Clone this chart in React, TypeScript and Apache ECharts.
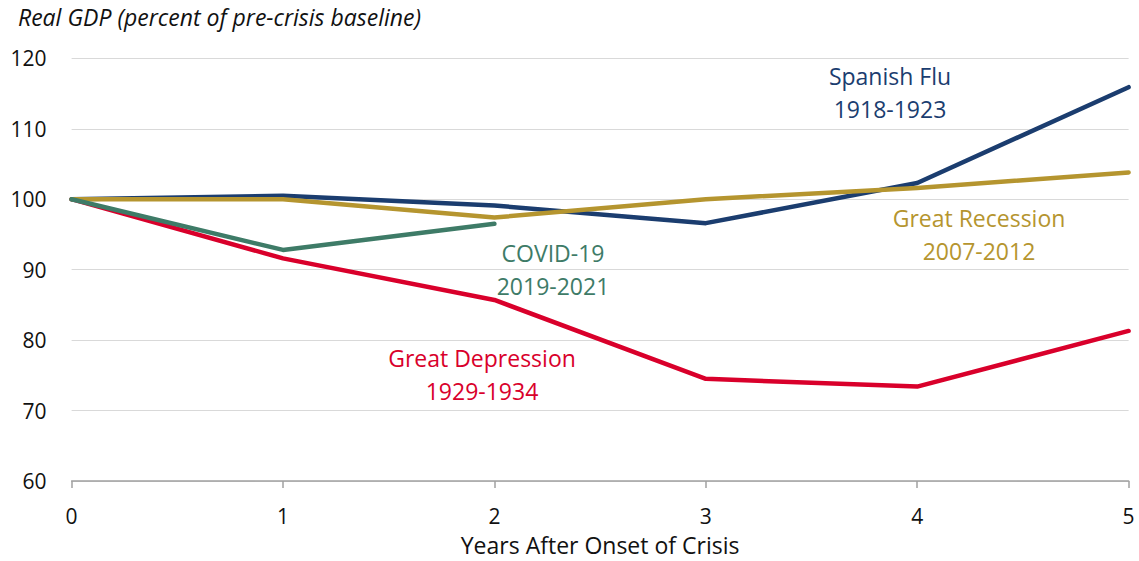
import React, { useEffect, useRef } from "react";
import * as echarts from "echarts";

const years = ["0", "1", "2", "3", "4", "5"];
const yTicks = [60, 70, 80, 90, 100, 110, 120];
const spanishFlu = [100, 100.5, 99.1, 96.6, 102.3, 115.9];
const greatRecession = [100, 100, 97.4, 100, 101.6, 103.8];
const covid19 = [100, 92.8, 96.5];
const greatDepression = [100, 91.6, 85.7, 74.5, 73.4, 81.3];

const seriesNames = ["Great Depression", "Spanish Flu", "Great Recession", "COVID-19"];
const seriesPeriods = ["1929-1934", "1918-1923", "2007-2012", "2019-2021"];

const FONT = "'Open Sans', 'Noto Sans', sans-serif";
const C_NAVY = "#1b3d6f";
const C_GOLD = "#b5952f";
const C_GREEN = "#3e7b67";
const C_RED = "#d9002b";

export default function App() {
  const ref = useRef<HTMLDivElement>(null);
  useEffect(() => {
    document.body.style.margin = "0";
    document.body.style.overflow = "hidden";
    if (!ref.current) return;
    const chart = echarts.init(ref.current, undefined, { renderer: "svg" });
    const lineStyle = (color: string) => ({ color, width: 4.5, cap: "round" as const, join: "round" as const });
    const mk = (name: string, data: number[], color: string) => ({
      name,
      type: "line" as const,
      data,
      showSymbol: false,
      symbol: "none",
      lineStyle: lineStyle(color),
      itemStyle: { color },
      z: 3,
    });
    const label = (lines: string[], color: string, x: number, y: number) => ({
      type: "text" as const,
      x,
      y,
      style: {
        text: lines.join("\n"),
        fill: color,
        font: `23px ${FONT}`,
        lineHeight: 33,
        textAlign: "center",
        textVerticalAlign: "top",
      },
      z: 10,
    });
    chart.setOption({
      animation: false,
      backgroundColor: "#ffffff",
      textStyle: { fontFamily: FONT },
      grid: { left: 71.6, right: 10.4, top: 58.3, bottom: 79.3, containLabel: false },
      xAxis: {
        type: "category",
        data: years,
        boundaryGap: false,
        name: "Years After Onset of Crisis",
        nameLocation: "middle",
        nameGap: 52,
        nameTextStyle: { fontSize: 23, color: "#111", fontFamily: FONT },
        axisLine: { show: true, lineStyle: { color: "#a0a0a0", width: 1.5 } },
        axisTick: { show: true, length: 7, lineStyle: { color: "#a0a0a0", width: 1.5 } },
        axisLabel: { fontSize: 21, color: "#111", margin: 24, fontFamily: FONT },
        splitLine: { show: false },
      },
      yAxis: {
        type: "value",
        min: yTicks[0],
        max: yTicks[yTicks.length - 1],
        interval: 10,
        axisLine: { show: false },
        axisTick: { show: false },
        axisLabel: { fontSize: 21, color: "#111", margin: 25, fontFamily: FONT },
        splitLine: { show: true, lineStyle: { color: "#d9d9d9", width: 1.2 } },
      },
      series: [
        mk(seriesNames[0], greatDepression, C_RED),
        mk(seriesNames[1], spanishFlu, C_NAVY),
        mk(seriesNames[2], greatRecession, C_GOLD),
        mk(seriesNames[3], covid19, C_GREEN),
      ],
      graphic: [
        {
          type: "text",
          x: 18,
          y: 5,
          style: {
            text: "Real GDP (percent of pre-crisis baseline)",
            fill: "#111",
            font: `italic 23px ${FONT}`,
            textVerticalAlign: "top",
          },
        },
        label([seriesNames[1], seriesPeriods[1]], C_NAVY, 890, 59),
        label([seriesNames[2], seriesPeriods[2]], C_GOLD, 979, 201),
        label([seriesNames[3], seriesPeriods[3]], C_GREEN, 553, 236),
        label([seriesNames[0], seriesPeriods[0]], C_RED, 482, 341),
      ],
    });
    return () => chart.dispose();
  }, []);
  return <div ref={ref} style={{ width: 1139, height: 561 }} />;
}
